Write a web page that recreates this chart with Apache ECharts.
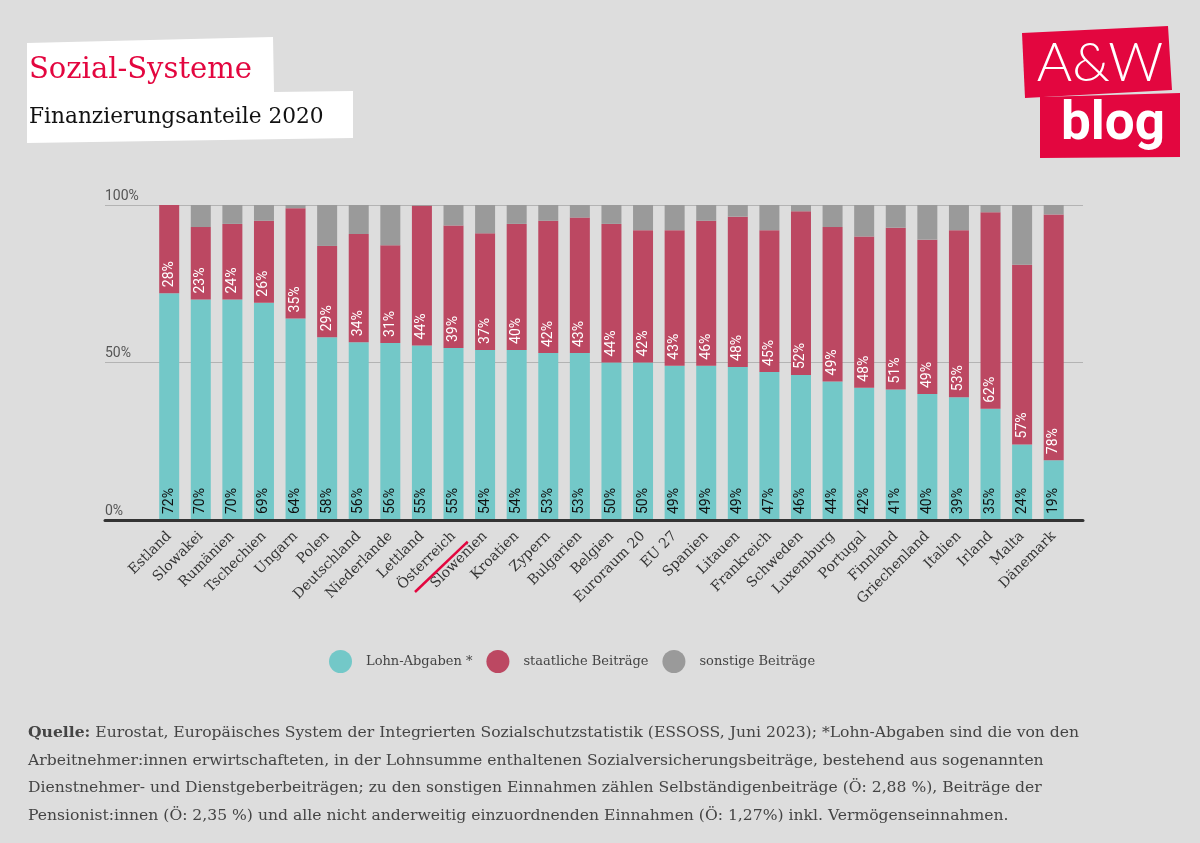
<!DOCTYPE html>
<html>
<head>
<meta charset="utf-8">
<script src="https://cdn.jsdelivr.net/npm/echarts@6/dist/echarts.min.js"></script>
<style>
html,body{margin:0;padding:0;background:#dddddd;}
#chart{width:1200px;height:843px;}
</style>
</head>
<body>
<div id="chart"></div>
<script>
const countries = ['Estland','Slowakei','Rumänien','Tschechien','Ungarn','Polen','Deutschland','Niederlande','Lettland','Österreich','Slowenien','Kroatien','Zypern','Bulgarien','Belgien','Euroraum 20','EU 27','Spanien','Litauen','Frankreich','Schweden','Luxemburg','Portugal','Finnland','Griechenland','Italien','Irland','Malta','Dänemark'];
const lohnAbgaben = [72,70,70,69,64,58,56.4,56.2,55.4,54.6,54,54,53,53,50,50,49,49,48.6,47,46,44,42,41.4,40,39,35.3,24,19];
const staatlicheBeitraege = [28,23,24,26,35,29,34.4,31,44.4,38.9,37,40,42,43,44,42,43,46,47.7,45,52,49,48,51.4,49,53,62.4,57,78];
const sonstigeBeitraege = [0,7,6,5,1,13,9.2,12.8,0.2,6.5,9,6,5,4,6,8,8,5,3.7,8,2,7,10,7.2,11,8,2.3,19,3];
const yTicks = [0,50,100];
const seriesNames = ['Lohn-Abgaben *','staatliche Beiträge','sonstige Beiträge'];
const highlightCountry = 'Österreich';

const SERIF = "'DejaVu Serif', serif";
const SANS = "Roboto, 'Noto Sans', sans-serif";
const C_TEAL = '#73c8c8', C_RED = '#bc4862', C_GREY = '#9a9a9a', C_BRAND = '#e3063f';

const chart = echarts.init(document.getElementById('chart'), null, {renderer:'canvas'});

const pct = p => Math.round(p.value) + '%';

const footer = '{b|Quelle:} Eurostat, Europäisches System der Integrierten Sozialschutzstatistik (ESSOSS, Juni 2023); *Lohn-Abgaben sind die von den\n' +
  'Arbeitnehmer:innen erwirtschafteten, in der Lohnsumme enthaltenen Sozialversicherungsbeiträge, bestehend aus sogenannten\n' +
  'Dienstnehmer- und Dienstgeberbeiträgen; zu den sonstigen Einnahmen zählen Selbständigenbeiträge (Ö: 2,88 %), Beiträge der\n' +
  'Pensionist:innen (Ö: 2,35 %) und alle nicht anderweitig einzuordnenden Einnahmen (Ö: 1,27%) inkl. Vermögenseinnahmen.';

const baseGraphic = [
  {id:'tbox', type:'polygon', z:1, shape:{points:[[27,43],[273,37],[274,92],[353,91],[353,138],[27,143]]}, style:{fill:'#ffffff'}},
  {id:'t1', type:'text', z:2, left:29, top:56, style:{text:'Sozial-Systeme', font:'29px ' + SERIF, fill:C_BRAND}},
  {id:'t2', type:'text', z:2, left:29, top:106, style:{text:'Finanzierungsanteile 2020', font:'21.7px ' + SERIF, fill:'#111'}},
  {id:'lb1', type:'polygon', z:1, shape:{points:[[1022,33],[1168,26],[1172,90],[1025,98]]}, style:{fill:C_BRAND}},
  {id:'lb2', type:'polygon', z:1, shape:{points:[[1040,97],[1180,93],[1180,157],[1040,158]]}, style:{fill:C_BRAND}},
  {id:'lt1', type:'text', z:2, x:1100, y:64, style:{text:'A&W', font:'300 54px Lato, Roboto, sans-serif', fill:'#fff', align:'center', verticalAlign:'middle'}},
  {id:'lt2', type:'text', z:2, x:1113, y:126, style:{text:'blog', font:'bold 53px ' + SANS, fill:'#fff', align:'center', verticalAlign:'middle'}},
  {id:'foot', type:'text', z:2, left:28, top:719, style:{
    text: footer, font:'15.6px ' + SERIF, fill:'#444', lineHeight:27.7,
    rich:{b:{fontFamily:SERIF, fontSize:15.6, fontWeight:'bold', fill:'#444', lineHeight:27.7}}
  }}
];

const labelCommon = {show:true, position:'insideBottom', rotate:90, align:'left', verticalAlign:'middle', distance:6, fontFamily:SANS, fontSize:14, formatter:pct};

const option = {
  backgroundColor:'#dddddd',
  animation:false,
  grid:[
    {left:153.4, right:130.5, top:205, bottom:323},
    {left:105, right:117, top:205, bottom:323}
  ],
  legend:{
    data:seriesNames, left:324, top:645, icon:'circle', itemWidth:23, itemHeight:23, itemGap:14,
    textStyle:{fontFamily:SERIF, fontSize:13, color:'#444', padding:[0,0,0,9]}
  },
  xAxis:[
    {type:'category', gridIndex:0, data:countries, axisLine:{show:false}, axisTick:{show:false},
     axisLabel:{interval:0, rotate:45, margin:14, fontFamily:SERIF, fontSize:14, color:'#333'}},
    {type:'value', gridIndex:1, min:0, max:1, z:10, axisLine:{show:true, lineStyle:{color:'#333', width:3}},
     axisTick:{show:false}, axisLabel:{show:false}, splitLine:{show:false}}
  ],
  yAxis:[
    {type:'value', gridIndex:0, min:0, max:100, show:false},
    {type:'value', gridIndex:1, min:yTicks[0], max:yTicks[yTicks.length-1], interval:50,
     axisLine:{show:false}, axisTick:{show:false},
     axisLabel:{inside:true, margin:0, verticalAlign:'bottom', padding:[0,0,2,0], formatter:'{value}%', fontFamily:SANS, fontSize:14, color:'#555'},
     splitLine:{show:true, lineStyle:{color:'#b3b3b3', width:1}}}
  ],
  series:[
    {name:seriesNames[0], type:'bar', stack:'a', xAxisIndex:0, yAxisIndex:0, data:lohnAbgaben, barWidth:20,
     itemStyle:{color:C_TEAL}, label:Object.assign({}, labelCommon, {color:'#111'})},
    {name:seriesNames[1], type:'bar', stack:'a', xAxisIndex:0, yAxisIndex:0, data:staatlicheBeitraege, barWidth:20,
     itemStyle:{color:C_RED}, label:Object.assign({}, labelCommon, {color:'#fff'})},
    {name:seriesNames[2], type:'bar', stack:'a', xAxisIndex:0, yAxisIndex:0, data:sonstigeBeitraege, barWidth:20,
     itemStyle:{color:C_GREY}, label:{show:false}}
  ],
  graphic: baseGraphic
};

chart.setOption(option);
const cx = chart.convertToPixel({xAxisIndex:0}, highlightCountry);
option.graphic = baseGraphic.concat([
  {id:'ul', type:'line', z:3, shape:{x1:cx-38.5, y1:592, x2:cx+14.2, y2:541.7}, style:{stroke:C_BRAND, lineWidth:2.5}}
]);
chart.setOption(option, true);
</script>
</body>
</html>
